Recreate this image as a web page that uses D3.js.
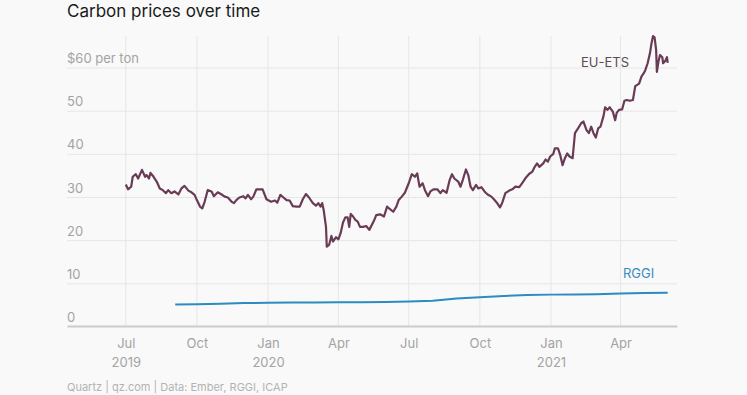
<!DOCTYPE html>
<html>
<head>
<meta charset="utf-8">
<script src="https://cdn.jsdelivr.net/npm/d3@7"></script>
<style>
    * { margin: 0; padding: 0; }
    body { background: #f9f9f9; }
    text { font-family: Inter, "Noto Sans", sans-serif; }
</style>
</head>
<body>
<div id="chart"></div>
<script>
// EU-ETS daily-ish price, $ per ton
var euDates = ["2019-07-01","2019-07-04","2019-07-08","2019-07-10","2019-07-14","2019-07-17","2019-07-22","2019-07-26","2019-07-28","2019-07-31",
    "2019-08-02","2019-08-06","2019-08-10","2019-08-14","2019-08-18","2019-08-22","2019-08-25","2019-08-29","2019-09-02","2019-09-07",
    "2019-09-11","2019-09-15","2019-09-20","2019-09-24","2019-09-28","2019-10-01","2019-10-05","2019-10-08","2019-10-11","2019-10-15",
    "2019-10-20","2019-10-23","2019-10-28","2019-11-02","2019-11-06","2019-11-10","2019-11-15","2019-11-18","2019-11-21","2019-11-25",
    "2019-11-30","2019-12-03","2019-12-06","2019-12-10","2019-12-13","2019-12-17","2019-12-21","2019-12-25","2019-12-30","2020-01-02",
    "2020-01-05","2020-01-10","2020-01-13","2020-01-17","2020-01-21","2020-01-25","2020-01-29","2020-02-02","2020-02-07","2020-02-11",
    "2020-02-15","2020-02-19","2020-02-23","2020-02-28","2020-03-03","2020-03-06","2020-03-09","2020-03-11","2020-03-13","2020-03-16",
    "2020-03-17","2020-03-20","2020-03-23","2020-03-25","2020-03-29","2020-04-01","2020-04-04","2020-04-07","2020-04-10","2020-04-13",
    "2020-04-15","2020-04-17","2020-04-20","2020-04-23","2020-04-26","2020-04-29","2020-05-03","2020-05-07","2020-05-11","2020-05-17",
    "2020-05-20","2020-05-25","2020-05-30","2020-06-03","2020-06-06","2020-06-11","2020-06-15","2020-06-18","2020-06-22","2020-06-26",
    "2020-07-01","2020-07-05","2020-07-09","2020-07-12","2020-07-15","2020-07-19","2020-07-22","2020-07-26","2020-07-29","2020-08-02",
    "2020-08-07","2020-08-11","2020-08-14","2020-08-19","2020-08-23","2020-08-26","2020-08-29","2020-09-03","2020-09-06","2020-09-09",
    "2020-09-13","2020-09-16","2020-09-19","2020-09-22","2020-09-26","2020-09-29","2020-10-03","2020-10-07","2020-10-11","2020-10-16",
    "2020-10-20","2020-10-23","2020-10-27","2020-10-30","2020-11-03","2020-11-08","2020-11-12","2020-11-16","2020-11-21","2020-11-25",
    "2020-11-30","2020-12-04","2020-12-08","2020-12-11","2020-12-14","2020-12-17","2020-12-22","2020-12-25","2020-12-28","2020-12-31",
    "2021-01-04","2021-01-06","2021-01-10","2021-01-13","2021-01-16","2021-01-19","2021-01-22","2021-01-25","2021-01-29","2021-02-01",
    "2021-02-05","2021-02-09","2021-02-12","2021-02-16","2021-02-19","2021-02-22","2021-02-25","2021-02-28","2021-03-03","2021-03-06",
    "2021-03-10","2021-03-12","2021-03-15","2021-03-18","2021-03-22","2021-03-25","2021-03-27","2021-03-30","2021-04-03","2021-04-06",
    "2021-04-09","2021-04-13","2021-04-17","2021-04-20","2021-04-25","2021-04-28","2021-05-01","2021-05-03","2021-05-06","2021-05-09",
    "2021-05-11","2021-05-13","2021-05-15","2021-05-17","2021-05-18","2021-05-20","2021-05-22","2021-05-25","2021-05-26","2021-05-29",
    "2021-05-31","2021-06-01"];
var euValues = [33.0,31.9,32.5,34.8,35.4,34.4,36.4,34.8,35.2,34.4,
    35.7,34.8,33.7,32.1,31.7,31.0,31.7,31.0,31.4,30.7,
    32.1,32.7,31.6,31.2,30.6,29.4,27.9,27.5,29.0,31.7,
    31.4,30.3,31.2,30.7,30.2,30.0,29.0,28.7,29.4,30.0,
    30.3,29.8,30.6,29.6,30.2,31.9,31.9,31.9,29.6,29.3,
    29.0,29.3,28.8,30.6,30.0,29.4,29.3,28.0,27.9,27.9,
    29.6,30.8,30.0,28.7,28.1,28.7,27.9,28.7,27.1,23.2,
    18.6,19.0,21.1,19.8,20.8,20.3,21.8,24.2,25.4,25.4,
    23.2,26.2,25.6,24.8,24.4,23.2,23.2,23.4,22.5,24.6,
    25.9,26.1,25.6,27.9,27.4,26.7,27.9,29.4,30.2,31.1,
    33.3,35.4,34.8,35.6,32.5,33.3,31.7,30.3,31.4,31.9,
    31.9,31.0,31.7,31.1,34.1,35.4,34.4,33.7,32.5,34.1,
    36.5,35.2,32.5,31.7,32.9,32.1,32.4,31.4,30.7,30.2,
    29.4,28.8,27.7,28.8,31.0,31.6,31.9,32.5,32.4,33.4,
    34.7,35.5,36.0,37.1,37.9,37.1,37.9,38.8,38.3,39.5,
    40.1,41.4,41.4,39.8,37.5,39.1,40.2,39.5,39.1,44.9,
    46.0,47.2,47.6,45.6,44.9,46.4,44.9,43.9,46.0,46.4,
    48.9,50.9,50.3,50.9,49.9,47.9,49.6,50.3,50.4,52.4,
    52.6,52.4,52.6,55.8,56.4,58.0,58.8,59.5,61.1,63.4,
    65.7,67.4,67.1,64.2,59.1,61.5,63.0,62.5,61.1,61.7,
    62.5,61.2];

// RGGI allowance price, $ per ton
var rggiDates = ["2019-09-03","2019-10-01","2019-11-01","2019-12-01","2020-01-01","2020-02-01","2020-03-01","2020-04-01",
    "2020-05-01","2020-06-01","2020-07-01","2020-08-01","2020-09-01","2020-10-01","2020-11-01","2020-12-01",
    "2021-01-01","2021-02-01","2021-03-01","2021-04-01","2021-05-01","2021-06-01"];
var rggiValues = [5.2,5.25,5.4,5.55,5.6,5.65,5.7,5.75,5.75,5.8,5.9,6.1,6.6,6.9,7.2,7.4,7.5,7.55,7.6,7.75,7.9,7.95];

var yTicks = [0, 10, 20, 30, 40, 50, 60];
var xTickDates = ["2019-07-01","2019-10-01","2020-01-01","2020-04-01","2020-07-01","2020-10-01","2021-01-01","2021-04-01"];

var W = 747, H = 395;
var parse = d3.timeParse("%Y-%m-%d");

var euData = euDates.map(function (d, i) { return { date: parse(d), value: euValues[i] }; });
var rggiData = rggiDates.map(function (d, i) { return { date: parse(d), value: rggiValues[i] }; });

var x = d3.scaleTime()
    .domain([parse("2019-04-16"), parse("2021-06-13")])
    .range([67, 677]);
var y = d3.scaleLinear()
    .domain([0, 60])
    .range([327, 68]);

var svg = d3.select("#chart").append("svg")
    .attr("width", W)
    .attr("height", H);

svg.append("rect").attr("width", W).attr("height", H).attr("fill", "#f9f9f9");

svg.append("text")
    .attr("x", 67).attr("y", 17)
    .style("font-size", "17px")
    .attr("fill", "#1a1a1a")
    .text("Carbon prices over time");

// vertical grid at quarter ticks
svg.selectAll(".vgrid")
    .data(xTickDates.map(parse))
    .enter().append("line")
    .attr("x1", d => x(d)).attr("x2", d => x(d))
    .attr("y1", 36).attr("y2", 326)
    .attr("stroke", "#e6e6e6").attr("stroke-width", 1);

// horizontal grid
svg.selectAll(".hgrid")
    .data(yTicks.filter(d => d > 0))
    .enter().append("line")
    .attr("x1", 67).attr("x2", 677)
    .attr("y1", d => y(d)).attr("y2", d => y(d))
    .attr("stroke", "#e6e6e6").attr("stroke-width", 1);

svg.selectAll(".ylab")
    .data(yTicks)
    .enter().append("text")
    .attr("x", 67)
    .attr("y", d => y(d) - 5)
    .attr("fill", "#a3a3a3")
    .style("font-size", "13px")
    .text(d => d == 60 ? "$60 per ton" : d);

// bottom axis
var xAxis = d3.axisBottom(x)
    .tickValues(xTickDates.map(parse))
    .tickSize(0)
    .tickPadding(0)
    .tickFormat(d3.timeFormat("%b"));
var gx = svg.append("g")
    .attr("transform", "translate(0,326)")
    .call(xAxis);
gx.select(".domain").attr("stroke", "#cccccc").attr("stroke-width", 2);
gx.selectAll(".tick text")
    .attr("y", 22).attr("dy", null)
    .attr("fill", "#a3a3a3")
    .style("font-size", "13px")
    .style("font-family", "Inter, 'Noto Sans', sans-serif");
gx.selectAll(".tick")
    .filter(d => d.getMonth() == 0 || d.getFullYear() == 2019 && d.getMonth() == 6)
    .append("text")
    .attr("y", 41)
    .attr("fill", "#a3a3a3")
    .style("font-size", "13px")
    .style("font-family", "Inter, 'Noto Sans', sans-serif")
    .text(d => d.getFullYear());

var line = d3.line()
    .x(d => x(d.date))
    .y(d => y(d.value));

svg.append("path")
    .datum(rggiData)
    .attr("d", line)
    .attr("fill", "none")
    .attr("stroke", "#2b8bc2")
    .attr("stroke-width", 2);

svg.append("path")
    .datum(euData)
    .attr("d", line)
    .attr("fill", "none")
    .attr("stroke", "#6a3b55")
    .attr("stroke-width", 2.2)
    .attr("stroke-linejoin", "round");

svg.append("text")
    .attr("x", 581).attr("y", 67)
    .attr("fill", "#5e4a57")
    .style("font-size", "13px")
    .text("EU-ETS");

svg.append("text")
    .attr("x", 623).attr("y", 278)
    .attr("fill", "#3a8cbf")
    .style("font-size", "13px")
    .text("RGGI");

svg.append("text")
    .attr("x", 67).attr("y", 391)
    .attr("fill", "#b3b3b3")
    .style("font-size", "11px")
    .text("Quartz | qz.com | Data: Ember, RGGI, ICAP");
</script>
</body>
</html>
